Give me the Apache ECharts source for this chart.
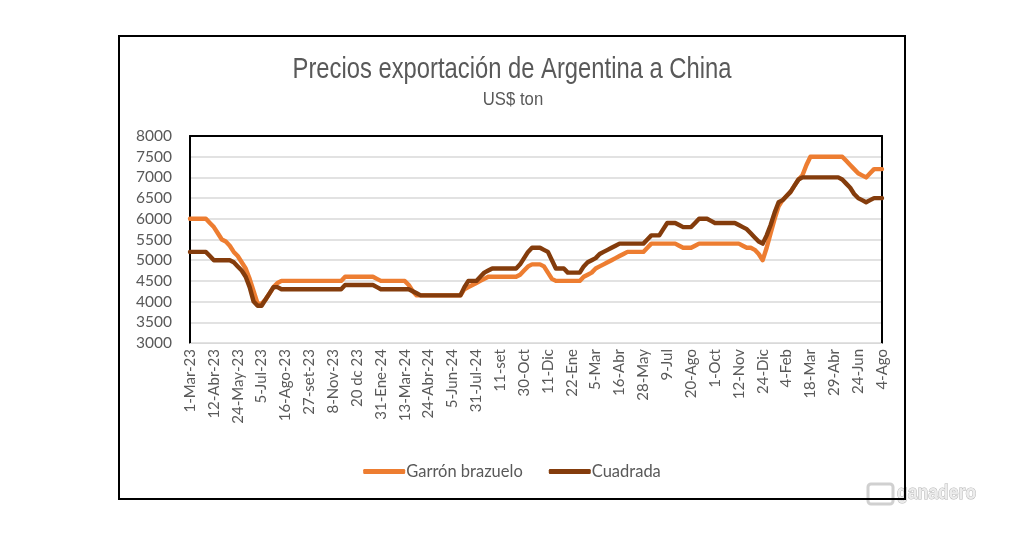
<!DOCTYPE html>
<html>
<head>
    <meta charset="utf-8" />
    <title>Precios exportación de Argentina a China</title>
    <script src="https://cdn.jsdelivr.net/npm/echarts@6/dist/echarts.min.js"></script>
    <style>
        html, body { margin: 0; padding: 0; background: #fff; }
        #container { width: 1024px; height: 535px; }
    </style>
</head>
<body>
    <div id="container"></div>
    <script>
        // etiquetas visibles del eje (una cada 6 semanas)
        var tickLabels = ['1-Mar-23', '12-Abr-23', '24-May-23', '5-Jul-23', '16-Ago-23', '27-set-23',
            '8-Nov-23', '20 dc 23', '31-Ene-24', '13-Mar-24', '24-Abr-24', '5-Jun-24', '31-Jul-24',
            '11-set', '30-Oct', '11-Dic', '22-Ene', '5-Mar', '16-Abr', '28-May', '9-Jul', '20-Ago',
            '1-Oct', '12-Nov', '24-Dic', '4-Feb', '18-Mar', '29-Abr', '24-Jun', '4-Ago'];
        var labelStep = 6;

        // US$ / ton, semanal
        var garron = [
            6000, 6000, 6000, 6000, 6000, 5900, 5800, 5650, 5500, 5450,
            5350, 5200, 5100, 4950, 4800, 4550, 4250, 3950, 3950, 4050,
            4200, 4350, 4450, 4500, 4500, 4500, 4500, 4500, 4500, 4500,
            4500, 4500, 4500, 4500, 4500, 4500, 4500, 4500, 4500, 4600,
            4600, 4600, 4600, 4600, 4600, 4600, 4600, 4550, 4500, 4500,
            4500, 4500, 4500, 4500, 4500, 4400, 4250, 4150, 4150, 4150,
            4150, 4150, 4150, 4150, 4150, 4150, 4150, 4150, 4150, 4300,
            4350, 4400, 4450, 4500, 4550, 4600, 4600, 4600, 4600, 4600,
            4600, 4600, 4600, 4650, 4750, 4850, 4900, 4900, 4900, 4850,
            4700, 4550, 4500, 4500, 4500, 4500, 4500, 4500, 4500, 4600,
            4650, 4700, 4800, 4850, 4900, 4950, 5000, 5050, 5100, 5150,
            5200, 5200, 5200, 5200, 5200, 5300, 5400, 5400, 5400, 5400,
            5400, 5400, 5400, 5350, 5300, 5300, 5300, 5350, 5400, 5400,
            5400, 5400, 5400, 5400, 5400, 5400, 5400, 5400, 5400, 5350,
            5300, 5300, 5250, 5150, 5000, 5300, 5650, 6000, 6300, 6450,
            6550, 6650, 6800, 6950, 7050, 7300, 7500, 7500, 7500, 7500,
            7500, 7500, 7500, 7500, 7500, 7400, 7300, 7200, 7100, 7050,
            7000, 7100, 7200, 7200, 7200
        ];
        var cuadrada = [
            5200, 5200, 5200, 5200, 5200, 5100, 5000, 5000, 5000, 5000,
            5000, 4950, 4850, 4750, 4600, 4350, 4000, 3900, 3900, 4050,
            4200, 4350, 4350, 4300, 4300, 4300, 4300, 4300, 4300, 4300,
            4300, 4300, 4300, 4300, 4300, 4300, 4300, 4300, 4300, 4400,
            4400, 4400, 4400, 4400, 4400, 4400, 4400, 4350, 4300, 4300,
            4300, 4300, 4300, 4300, 4300, 4300, 4250, 4200, 4150, 4150,
            4150, 4150, 4150, 4150, 4150, 4150, 4150, 4150, 4150, 4350,
            4500, 4500, 4500, 4600, 4700, 4750, 4800, 4800, 4800, 4800,
            4800, 4800, 4800, 4900, 5050, 5200, 5300, 5300, 5300, 5250,
            5200, 5000, 4800, 4800, 4800, 4700, 4700, 4700, 4700, 4850,
            4950, 5000, 5050, 5150, 5200, 5250, 5300, 5350, 5400, 5400,
            5400, 5400, 5400, 5400, 5400, 5500, 5600, 5600, 5600, 5750,
            5900, 5900, 5900, 5850, 5800, 5800, 5800, 5900, 6000, 6000,
            6000, 5950, 5900, 5900, 5900, 5900, 5900, 5900, 5850, 5800,
            5750, 5650, 5550, 5450, 5400, 5600, 5850, 6150, 6400, 6450,
            6550, 6650, 6800, 6950, 7000, 7000, 7000, 7000, 7000, 7000,
            7000, 7000, 7000, 7000, 6950, 6850, 6750, 6600, 6500, 6450,
            6400, 6450, 6500, 6500, 6500
        ];

        var semanas = garron.map(function (v, i) {
            return i % labelStep === 0 ? tickLabels[i / labelStep] : '';
        });

        var textColor = '#595959';
        var sans = "'Liberation Sans', Arial, sans-serif";
        var body = "Lato, 'Open Sans', sans-serif";

        var myChart = echarts.init(document.getElementById('container'));
        var option = {
            backgroundColor: '#fff',
            animation: false,
            legend: {
                left: 'center',
                top: 458,
                itemWidth: 42,
                itemHeight: 5,
                itemGap: 26,
                icon: 'roundRect',
                textStyle: { fontFamily: body, fontSize: 16.5, color: textColor, padding: [0, 0, 0, -4] },
                data: ['Garrón brazuelo', 'Cuadrada']
            },
            grid: { left: 190, right: 142, top: 136, bottom: 192, containLabel: false },
            xAxis: [{
                type: 'category',
                data: semanas,
                boundaryGap: false,
                axisLine: { lineStyle: { color: '#d9d9d9', width: 1 } },
                axisTick: { show: false },
                splitLine: { show: false },
                axisLabel: {
                    interval: function (i) { return i % labelStep === 0; },
                    rotate: 90,
                    margin: 6,
                    fontFamily: body,
                    fontSize: 15,
                    color: textColor
                }
            }, {
                type: 'category',
                position: 'top',
                data: semanas,
                boundaryGap: false,
                axisLine: { lineStyle: { color: '#000', width: 2 } },
                axisTick: { show: false },
                axisLabel: { show: false }
            }],
            yAxis: [{
                type: 'value',
                min: 3000,
                max: 8000,
                interval: 500,
                axisLine: { show: true, lineStyle: { color: '#000', width: 2 } },
                axisTick: { show: false },
                splitLine: { lineStyle: { color: '#d9d9d9', width: 1.5 } },
                axisLabel: {
                    fontFamily: body, fontSize: 15.5, color: textColor, margin: 18,
                    formatter: function (v) { return String(v); }
                }
            }, {
                type: 'value',
                position: 'right',
                min: 3000,
                max: 8000,
                interval: 500,
                axisLine: { show: true, lineStyle: { color: '#000', width: 2 } },
                axisTick: { show: false },
                splitLine: { show: false },
                axisLabel: { show: false }
            }],
            series: [{
                name: 'Garrón brazuelo',
                type: 'line',
                data: garron,
                showSymbol: false,
                color: '#ED7D31',
                lineStyle: { width: 4.4, cap: 'round', join: 'round' },
                z: 3
            }, {
                name: 'Cuadrada',
                type: 'line',
                data: cuadrada,
                showSymbol: false,
                color: '#843C0C',
                lineStyle: { width: 4.4, cap: 'round', join: 'round' },
                z: 4
            }],
            graphic: [{
                // titulo en tipo angosto
                type: 'text',
                x: 512,
                y: 55,
                scaleX: 0.82,
                silent: true,
                style: {
                    x: 0, y: 0, text: 'Precios exportación de Argentina a China',
                    textAlign: 'center', fill: textColor, font: '29px ' + sans
                }
            }, {
                type: 'text',
                x: 513,
                y: 90,
                scaleX: 0.88,
                silent: true,
                style: {
                    x: 0, y: 0, text: 'US$ ton',
                    textAlign: 'center', fill: textColor, font: '19px ' + sans
                }
            }, {
                type: 'rect',
                shape: { x: 119, y: 36, width: 786, height: 463 },
                style: { fill: null, stroke: '#000', lineWidth: 2 },
                silent: true,
                z: 10
            }, {
                type: 'group',
                x: 868,
                y: 481,
                silent: true,
                z: 11,
                children: [{
                    type: 'rect',
                    shape: { x: 0, y: 3, width: 25, height: 20, r: 3 },
                    style: { fill: null, stroke: '#d0d0d0', lineWidth: 3 }
                }, {
                    type: 'text',
                    x: 29,
                    y: 2,
                    scaleX: 0.88,
                    style: {
                        x: 0, y: 0, text: 'ganadero', fill: '#ececec',
                        font: "bold 20px 'Liberation Sans', sans-serif",
                        stroke: '#b5b5b5', lineWidth: 1
                    }
                }]
            }]
        };
        myChart.setOption(option);
    </script>
</body>
</html>
